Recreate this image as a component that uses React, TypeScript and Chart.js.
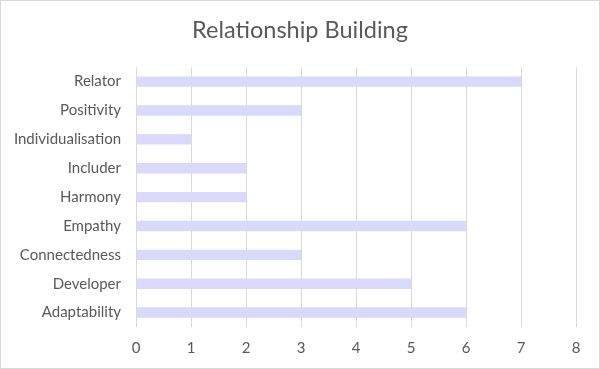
import React, { useEffect, useRef } from "react";
import { Chart, registerables } from "chart.js";

Chart.register(...registerables);

const categories = [
  "Relator",
  "Positivity",
  "Individualisation",
  "Includer",
  "Harmony",
  "Empathy",
  "Connectedness",
  "Developer",
  "Adaptability",
];
const values = [7, 3, 1, 2, 2, 6, 3, 5, 6];
const titleText = "Relationship Building";

const borderPlugin = {
  id: "outerBorder",
  afterDraw(chart: any) {
    const ctx = chart.ctx;
    ctx.save();
    ctx.strokeStyle = "#D9D9D9";
    ctx.lineWidth = 1;
    ctx.strokeRect(0.5, 0.5, chart.width - 1, chart.height - 1);
    ctx.restore();
  },
};

export default function App() {
  const ref = useRef<HTMLCanvasElement | null>(null);
  useEffect(() => {
    document.body.style.margin = "0";
    if (!ref.current) return;
    const chart = new Chart(ref.current, {
      type: "bar",
      data: {
        labels: categories,
        datasets: [
          {
            data: values,
            backgroundColor: "#D9D9FB",
            borderWidth: 0,
            categoryPercentage: 1,
            barPercentage: 0.36,
          },
        ],
      },
      options: {
        indexAxis: "y",
        animation: false,
        responsive: false,
        maintainAspectRatio: false,
        layout: { padding: 0 },
        plugins: {
          legend: { display: false },
          tooltip: { enabled: false },
          title: {
            display: true,
            text: titleText,
            color: "#595959",
            font: { family: "Lato", size: 23.5, weight: "normal", lineHeight: 1.2 },
            padding: { top: 16, bottom: 23 },
          },
        },
        scales: {
          x: {
            min: 0,
            max: 8,
            ticks: {
              stepSize: 1,
              color: "#595959",
              font: { family: "Lato", size: 15 },
              padding: 12,
            },
            grid: { color: "#D9D9D9", drawTicks: false },
            border: { display: false },
            afterFit(scale: any) {
              scale.height = 42;
            },
          },
          y: {
            ticks: {
              color: "#595959",
              font: { family: "Lato", size: 15 },
              padding: 15,
            },
            grid: { display: false, drawTicks: false },
            border: { display: false },
            afterFit(scale: any) {
              scale.width = 136;
            },
          },
          yRight: {
            type: "category",
            position: "right",
            labels: categories,
            ticks: { display: false },
            grid: { display: false, drawTicks: false },
            border: { display: false },
            afterFit(scale: any) {
              scale.width = 24;
            },
          },
        },
      },
      plugins: [borderPlugin],
    });
    return () => chart.destroy();
  }, []);
  return (
    <div style={{ width: 600, height: 369 }}>
      <canvas ref={ref} width={600} height={369} style={{ display: "block" }} />
    </div>
  );
}
